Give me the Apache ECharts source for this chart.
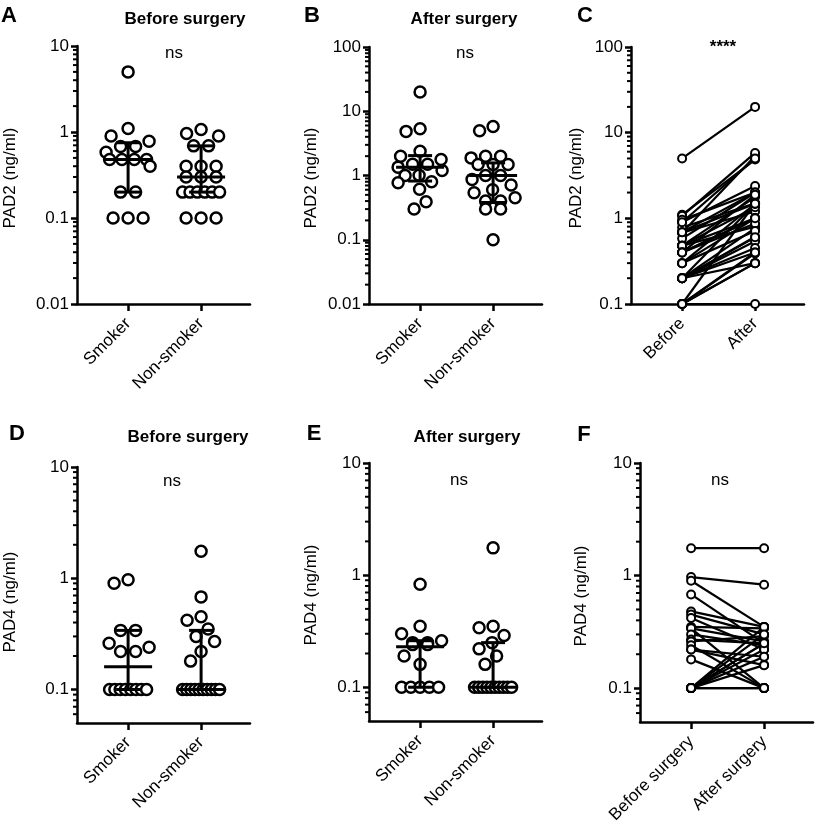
<!DOCTYPE html>
<html>
<head>
<meta charset="utf-8">
<script src="https://cdn.jsdelivr.net/npm/echarts@6/dist/echarts.min.js"></script>
<style>html,body{margin:0;padding:0;background:#fff}#chart{width:816px;height:828px}</style>
</head>
<body>
<div id="chart"></div>
<script>
// category labels
const groupNames = ['Smoker', 'Non-smoker'];
const pad2PairNames = ['Before', 'After'];
const pad4PairNames = ['Before surgery', 'After surgery'];

// y tick labels
const ticksA = [0.01, 0.1, 1, 10];
const ticksB = [0.01, 0.1, 1, 10, 100];
const ticksC = [0.1, 1, 10, 100];
const ticksDEF = [0.1, 1, 10];

// PAD2 (ng/ml) before / after surgery, by smoking status
const pad2BeforeSmoker = [5.0, 1.1, 0.9, 0.78, 0.68, 0.68, 0.58, 0.48, 0.48, 0.48, 0.48, 0.4, 0.2, 0.2, 0.1, 0.1, 0.1];
const pad2BeforeNonSmoker = [1.07, 0.96, 0.9, 0.69, 0.69, 0.4, 0.4, 0.4, 0.3, 0.3, 0.3, 0.2, 0.2, 0.2, 0.2, 0.2, 0.2, 0.1, 0.1, 0.1];
const pad2AfterSmoker = [20, 5.35, 4.86, 2.38, 1.99, 1.77, 1.5, 1.5, 1.35, 1.2, 1.01, 1.0, 0.8, 0.77, 0.61, 0.39, 0.3];
const pad2AfterNonSmoker = [5.8, 4.98, 2.0, 2.0, 1.88, 1.48, 1.48, 1.48, 1.0, 1.0, 0.87, 0.71, 0.6, 0.54, 0.45, 0.4, 0.4, 0.3, 0.3, 0.1];

// median, lower and upper quartile [smoker, non-smoker]
const medA = [0.48, 0.3], q1A = [0.2, 0.2], q3A = [0.75, 0.69];
const medB = [1.35, 1.0], q1B = [0.82, 0.38], q3B = [2.04, 1.57];

// PAD2 paired (panel C)
const pad2PairBefore = [5.0, 1.1, 0.9, 0.78, 0.68, 0.68, 0.58, 0.48, 0.48, 0.48, 0.48, 0.4, 0.2, 0.2, 0.1, 0.1, 0.1,
  1.07, 0.96, 0.9, 0.69, 0.69, 0.4, 0.4, 0.4, 0.3, 0.3, 0.3, 0.2, 0.2, 0.2, 0.2, 0.2, 0.2, 0.1, 0.1, 0.1];
const pad2PairAfter = [20, 4.86, 2.38, 1.5, 5.35, 1.2, 1.99, 1.77, 0.8, 1.35, 1.0, 1.01, 0.61, 0.77, 0.39, 0.3, 1.5,
  5.8, 2.0, 4.98, 1.48, 2.0, 1.88, 1.0, 0.87, 1.48, 0.71, 1.0, 0.54, 0.45, 1.48, 0.4, 0.6, 0.3, 0.4, 0.3, 0.1];

// PAD4 (ng/ml)
const pad4BeforeSmoker = [0.97, 0.9, 0.34, 0.34, 0.26, 0.24, 0.22, 0.22, 0.1, 0.1, 0.1, 0.1, 0.1, 0.1, 0.1, 0.1];
const pad4BeforeNonSmoker = [1.75, 0.68, 0.45, 0.42, 0.35, 0.3, 0.27, 0.22, 0.18, 0.1, 0.1, 0.1, 0.1, 0.1, 0.1, 0.1, 0.1, 0.1, 0.1];
const pad4AfterSmoker = [0.83, 0.35, 0.3, 0.26, 0.25, 0.25, 0.24, 0.24, 0.19, 0.16, 0.1, 0.1, 0.1, 0.1, 0.1];
const pad4AfterNonSmoker = [1.75, 0.35, 0.34, 0.29, 0.25, 0.22, 0.19, 0.16, 0.1, 0.1, 0.1, 0.1, 0.1, 0.1, 0.1, 0.1, 0.1, 0.1];

const medD = [0.16, 0.1], q1D = [0.1, 0.1], q3D = [0.34, 0.34];
const medE = [0.23, 0.1], q1E = [0.1, 0.1], q3E = [0.26, 0.25];

// PAD4 paired (panel F)
const pad4PairBefore = [1.75, 0.97, 0.9, 0.68, 0.48, 0.45, 0.42, 0.35, 0.34, 0.34, 0.3, 0.27, 0.26, 0.24, 0.22, 0.22, 0.18,
  0.1, 0.1, 0.1, 0.1, 0.1, 0.1, 0.1, 0.1, 0.1];
const pad4PairAfter = [1.75, 0.83, 0.35, 0.25, 0.35, 0.3, 0.22, 0.34, 0.26, 0.1, 0.24, 0.25, 0.29, 0.1, 0.19, 0.16, 0.1,
  0.35, 0.3, 0.25, 0.22, 0.19, 0.16, 0.1, 0.1, 0.25];

const FONT = "'Liberation Sans', Arial, sans-serif";
const BLACK = '#000';
const X_MIN = 0.3, X_MAX = 2.67, GRID_W = 173;

const panels = [
  {left: 77,  top: 46,  height: 258, min: 0.01, max: 10,  ticks: ticksA,   names: groupNames},
  {left: 369, top: 47,  height: 257, min: 0.01, max: 100, ticks: ticksB,   names: groupNames},
  {left: 631, top: 47,  height: 257, min: 0.1,  max: 100, ticks: ticksC,   names: pad2PairNames},
  {left: 77,  top: 467, height: 256, min: 0.05, max: 10,  ticks: ticksDEF, names: groupNames},
  {left: 369, top: 463, height: 258, min: 0.05, max: 10,  ticks: ticksDEF, names: groupNames},
  {left: 640, top: 463, height: 259, min: 0.05, max: 10,  ticks: ticksDEF, names: pad4PairNames}
];

// 2..9 x 10^n inside the axis range
const minorTicks = (min, max) => {
  const out = [];
  for (let e = Math.floor(Math.log10(min)); e < Math.log10(max); e++) {
    for (let k = 2; k <= 9; k++) {
      const v = +(k * Math.pow(10, e)).toPrecision(3);
      if (v > min * 1.0001 && v < max * 0.9999) out.push(v);
    }
  }
  return out;
};

// simple beeswarm: equal values in a row, others pushed sideways to avoid overlap
const swarm = (values, pxPerDecade) => {
  const d = 14, maxHalf = 22;
  const placed = [];
  const out = new Array(values.length);
  const yOf = v => Math.log10(v) * pxPerDecade;
  const counts = {};
  values.forEach(v => counts[v] = (counts[v] || 0) + 1);
  const seen = {};
  values.forEach((v, i) => {
    const n = counts[v];
    if (n < 2) return;
    const k = seen[v] || 0;
    seen[v] = k + 1;
    const step = Math.min(15, 37 / (n - 1));
    const x = (k - (n - 1) / 2) * step;
    out[i] = x;
    placed.push({x, y: yOf(v)});
  });
  values.forEach((v, i) => {
    if (counts[v] > 1) return;
    const y = yOf(v);
    let best = 0, bestScore = Infinity;
    for (let x = -maxHalf; x <= maxHalf; x += 0.5) {
      let overlap = 0;
      placed.forEach(p => {
        const dist = Math.hypot(p.x - x, p.y - y);
        if (dist < d) overlap += d - dist;
      });
      const score = overlap * 100 + Math.abs(x);
      if (score < bestScore) { bestScore = score; best = x; }
    }
    out[i] = best;
    placed.push({x: best, y});
  });
  return out;
};

const axisStyle = {color: BLACK, width: 2.5};

const grids = panels.map(p => ({left: p.left, top: p.top, width: GRID_W, height: p.height, containLabel: false}));
const xAxes = panels.map((p, i) => ({
  gridIndex: i, type: 'value', min: X_MIN, max: X_MAX,
  axisLine: {show: true, onZero: false, lineStyle: axisStyle},
  axisTick: {show: true, customValues: [1, 2], length: 7, lineStyle: axisStyle},
  axisLabel: {show: true, customValues: [1, 2], formatter: v => p.names[Math.round(v) - 1],
    rotate: 45, margin: 17, fontSize: 17, color: BLACK, fontFamily: FONT},
  splitLine: {show: false}
}));
const yAxes = panels.map((p, i) => ({
  gridIndex: i, type: 'log', logBase: 10, min: p.min, max: p.max, position: 'left',
  axisLine: {show: true, onZero: false, lineStyle: axisStyle},
  axisTick: {show: true, customValues: p.ticks, length: 6, lineStyle: axisStyle},
  axisLabel: {show: true, customValues: p.ticks, formatter: v => String(v), margin: 8,
    fontSize: 17, color: BLACK, fontFamily: FONT},
  splitLine: {show: false}
}));

const series = [];

// minor ticks of the log axes
panels.forEach((p, i) => {
  series.push({
    type: 'custom', xAxisIndex: i, yAxisIndex: i, z: 1, clip: false, silent: true,
    data: minorTicks(p.min, p.max).map(v => [X_MIN, v]),
    encode: {x: 0, y: 1},
    renderItem: (params, api) => {
      const pt = api.coord([api.value(0), api.value(1)]);
      return {type: 'line', shape: {x1: pt[0] - 4, y1: pt[1], x2: pt[0], y2: pt[1]},
        style: {stroke: BLACK, lineWidth: 2}};
    }
  });
});

const addGroups = (pi, groups, med, q1, q3) => {
  const p = panels[pi];
  const pxPerDecade = p.height / (Math.log10(p.max) - Math.log10(p.min));
  const pxPerUnit = GRID_W / (X_MAX - X_MIN);
  groups.forEach((vals, g) => {
    const off = swarm(vals, pxPerDecade);
    series.push({
      type: 'scatter', xAxisIndex: pi, yAxisIndex: pi, z: 2,
      data: vals.map((v, k) => [g + 1 + off[k] / pxPerUnit, v]),
      symbol: 'circle', symbolSize: 11,
      itemStyle: {color: '#fff', borderColor: BLACK, borderWidth: 2.5, opacity: 1}
    });
  });
  series.push({
    type: 'custom', xAxisIndex: pi, yAxisIndex: pi, z: 3,
    data: med.map((m, k) => [k + 1, m, q1[k], q3[k]]),
    encode: {x: 0, y: [1, 2, 3]},
    renderItem: (params, api) => {
      const x = api.value(0);
      const pm = api.coord([x, api.value(1)]);
      const pl = api.coord([x, api.value(2)]);
      const pu = api.coord([x, api.value(3)]);
      const style = {stroke: BLACK, lineWidth: 3};
      const hline = (c, half) => ({type: 'line', shape: {x1: c[0] - half, y1: c[1], x2: c[0] + half, y2: c[1]}, style});
      return {type: 'group', children: [
        {type: 'line', shape: {x1: pl[0], y1: pl[1], x2: pu[0], y2: pu[1]}, style},
        hline(pl, 12), hline(pu, 12), hline(pm, 24)
      ]};
    }
  });
};

const addPairs = (pi, before, after) => {
  before.forEach((b, k) => {
    series.push({
      type: 'line', xAxisIndex: pi, yAxisIndex: pi, z: 2,
      data: [[1, b], [2, after[k]]],
      symbol: 'circle', symbolSize: 8, showSymbol: true,
      itemStyle: {color: '#fff', borderColor: BLACK, borderWidth: 2},
      lineStyle: {color: BLACK, width: 2.2}
    });
  });
};

addGroups(0, [pad2BeforeSmoker, pad2BeforeNonSmoker], medA, q1A, q3A);
addGroups(1, [pad2AfterSmoker, pad2AfterNonSmoker], medB, q1B, q3B);
addPairs(2, pad2PairBefore, pad2PairAfter);
addGroups(3, [pad4BeforeSmoker, pad4BeforeNonSmoker], medD, q1D, q3D);
addGroups(4, [pad4AfterSmoker, pad4AfterNonSmoker], medE, q1E, q3E);
addPairs(5, pad4PairBefore, pad4PairAfter);

const txt = (text, x, y, font, extra) => Object.assign({
  type: 'text', x, y,
  style: {text, fill: BLACK, font, textAlign: 'center', textVerticalAlign: 'middle'}
}, extra || {});
const letterFont = 'bold 22px ' + FONT;
const titleFont = 'bold 17px ' + FONT;
const plainFont = '17px ' + FONT;
const graphic = [
  txt('A', 9, 16, letterFont), txt('B', 312, 16, letterFont), txt('C', 585, 16, letterFont),
  txt('D', 17, 434, letterFont), txt('E', 314, 434, letterFont), txt('F', 584, 435, letterFont),
  txt('Before surgery', 185, 19, titleFont), txt('After surgery', 464, 19, titleFont),
  txt('Before surgery', 188, 437, titleFont), txt('After surgery', 467, 437, titleFont),
  txt('ns', 174, 53, plainFont), txt('ns', 465, 53, plainFont), txt('****', 723, 47, titleFont),
  txt('ns', 172, 481, plainFont), txt('ns', 459, 480, plainFont), txt('ns', 720, 480, plainFont),
  txt('PAD2 (ng/ml)', 10, 178, plainFont, {rotation: Math.PI / 2}),
  txt('PAD2 (ng/ml)', 311, 178, plainFont, {rotation: Math.PI / 2}),
  txt('PAD2 (ng/ml)', 576, 178, plainFont, {rotation: Math.PI / 2}),
  txt('PAD4 (ng/ml)', 10, 602, plainFont, {rotation: Math.PI / 2}),
  txt('PAD4 (ng/ml)', 311, 595, plainFont, {rotation: Math.PI / 2}),
  txt('PAD4 (ng/ml)', 581, 596, plainFont, {rotation: Math.PI / 2})
];

const chart = echarts.init(document.getElementById('chart'));
chart.setOption({
  animation: false,
  backgroundColor: '#fff',
  textStyle: {fontFamily: FONT},
  grid: grids,
  xAxis: xAxes,
  yAxis: yAxes,
  series,
  graphic
});
</script>
</body>
</html>
